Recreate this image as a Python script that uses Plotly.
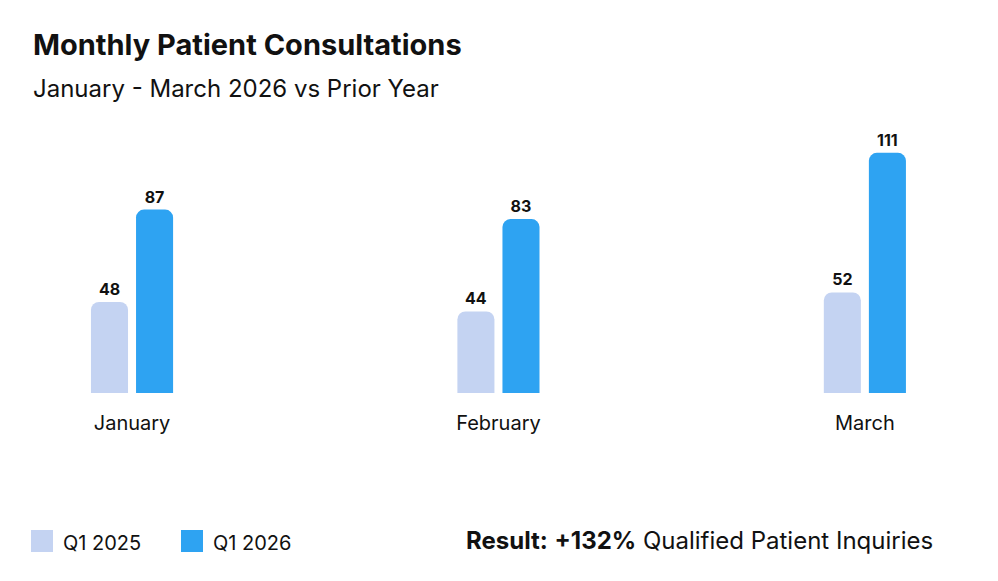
import plotly.graph_objects as go

months = ["January", "February", "March"]
series_names = ["Q1 2025", "Q1 2026"]
q1_2025 = [48, 44, 52]
q1_2026 = [87, 83, 111]
colors = ["#C4D3F2", "#2EA3F2"]

title = "Monthly Patient Consultations"
subtitle = "January - March 2026 vs Prior Year"
result_text = "<b>Result:</b> <b>+132%</b> Qualified Patient Inquiries"

FONT = "Inter"
TXT = "#111111"

W, H = 998, 581
pl, pr, pt, pb = 32, 32, 100, 188

fig = go.Figure()
for name, vals, col in zip(series_names, [q1_2025, q1_2026], colors):
    fig.add_trace(go.Bar(
        x=months, y=vals, name=name, marker_color=col,
        marker_cornerradius=8, marker_line_width=0,
        text=[str(v) for v in vals], textposition="outside",
        constraintext="none",
        textfont=dict(family=FONT, size=16, color=TXT, weight="bold"),
        showlegend=False,
    ))

fig.update_layout(
    width=W, height=H,
    margin=dict(l=pl, r=pr, t=pt, b=pb),
    paper_bgcolor="white", plot_bgcolor="white",
    barmode="group", bargap=0.754, bargroupgap=0.178,
    font=dict(family=FONT, color=TXT),
    xaxis=dict(range=[-0.273, 2.276], showgrid=False, zeroline=False,
               showline=False, ticks="", ticklabelstandoff=16,
               tickfont=dict(family=FONT, size=20, color=TXT)),
    yaxis=dict(range=[9.55, 133.3], visible=False, showgrid=False, zeroline=False),
)

annotations = [
    dict(text=f"<b>{title}</b>", x=31, y=44, showarrow=False, xanchor="left", yanchor="middle",
         font=dict(family=FONT, size=29, color=TXT)),
    dict(text=subtitle, x=31, y=88, showarrow=False, xanchor="left", yanchor="middle",
         font=dict(family=FONT, size=24, color=TXT)),
    dict(text=result_text, x=935, y=540, showarrow=False, xanchor="right", yanchor="middle",
         font=dict(family=FONT, size=24, color=TXT)),
]
shapes = []
legend_x = [31, 181]
for name, col, lx in zip(series_names, colors, legend_x):
    shapes.append(dict(type="rect", x0=lx, x1=lx + 22, y0=530, y1=552,
                       fillcolor=col, line_width=0))
    annotations.append(dict(text=name, x=lx + 30, y=543, showarrow=False,
                            xanchor="left", yanchor="middle",
                            font=dict(family=FONT, size=20, color=TXT)))

# convert pixel coordinates to paper coordinates
pw, ph = W - pl - pr, H - pt - pb
for a in annotations:
    a["xref"] = "paper"; a["yref"] = "paper"
    a["x"] = (a["x"] - pl) / pw
    a["y"] = (H - pb - a["y"]) / ph
fig.update_layout(annotations=annotations)
for s in shapes:
    y0, y1 = s["y0"], s["y1"]
    fig.add_shape(type="rect", xref="paper", yref="paper",
                  x0=(s["x0"] - pl) / pw, x1=(s["x1"] - pl) / pw,
                  y0=(H - pb - y1) / ph, y1=(H - pb - y0) / ph,
                  fillcolor=s["fillcolor"], line_width=0)

fig.write_html("out.html")
